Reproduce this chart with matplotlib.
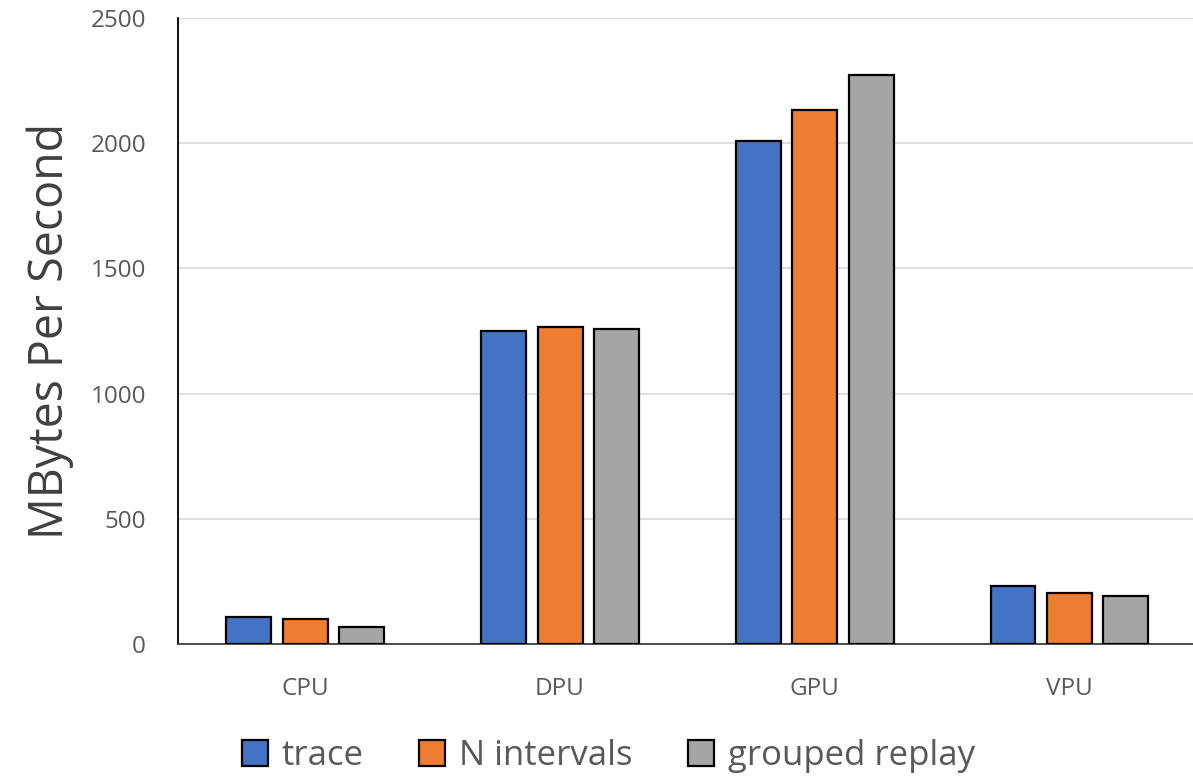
import matplotlib
matplotlib.use("Agg")
import matplotlib.pyplot as plt
import numpy as np

categories = ["CPU", "DPU", "GPU", "VPU"]
series_names = ["trace", "N intervals", "grouped replay"]
trace = [108, 1250, 2010, 230]
n_intervals = [100, 1266, 2132, 204]
grouped_replay = [68, 1258, 2272, 192]
y_ticks = [0, 500, 1000, 1500, 2000, 2500]

colors = ["#4472C4", "#ED7D31", "#A5A5A5"]
text_color = "#595959"

plt.rcParams["font.family"] = ["Open Sans", "DejaVu Sans"]

fig = plt.figure(figsize=(11.93, 7.77), dpi=100)
ax = fig.add_axes([0.1492, 0.1712, 0.854, 0.8056])

x = np.arange(len(categories))
width = 0.1766
step = 0.2217
for i, (vals, name) in enumerate(zip([trace, n_intervals, grouped_replay], series_names)):
    ax.bar(x + (i - 1) * step, vals, width, color=colors[i], edgecolor="black",
           linewidth=1.6, label=name, zorder=3)

ax.set_xlim(-0.5, len(categories) - 0.5)
ax.set_ylim(0, 2500)
ax.set_yticks(y_ticks)
ax.set_xticks(x)
ax.set_xticklabels(categories)
ax.tick_params(axis="both", length=0, colors=text_color, labelsize=17.5)
ax.tick_params(axis="y", pad=23)
ax.tick_params(axis="x", pad=24)
ax.grid(axis="y", color="#D9D9D9", linewidth=1.2, zorder=0)
for s in ["top", "right"]:
    ax.spines[s].set_visible(False)
ax.spines["left"].set_color("black")
ax.spines["left"].set_linewidth(1.3)
ax.spines["bottom"].set_color("#404040")
ax.spines["bottom"].set_linewidth(1.3)

ax.set_ylabel("MBytes Per Second", fontsize=33.5, color="#404040", labelpad=12)

fig.legend(loc="lower center", bbox_to_anchor=(0.51, -0.035), ncol=3, frameon=False,
           fontsize=25, labelcolor=text_color, handlelength=0.75, handleheight=0.75,
           handletextpad=0.4, columnspacing=1.6)

fig.savefig("out.png", dpi=100)
